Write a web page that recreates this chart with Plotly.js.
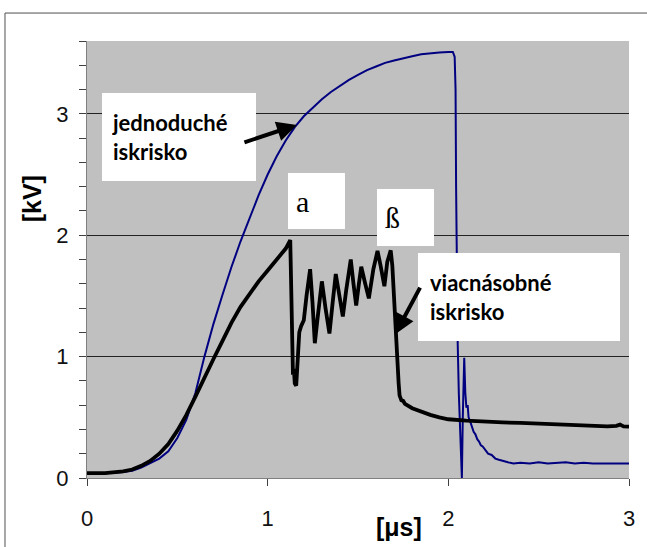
<!DOCTYPE html>
<html>
<head>
<meta charset="utf-8">
<script src="https://cdn.plot.ly/plotly-3.0.1.min.js"></script>
<style>html,body{margin:0;padding:0;background:#fff;}#chart{width:647px;height:547px;}</style>
</head>
<body>
<div id="chart"></div>
<script>
// jednoduché iskrisko (blue)
const blueX = [0, 0.1, 0.2, 0.25, 0.3, 0.35, 0.4, 0.45, 0.5, 0.55, 0.6, 0.65, 0.7, 0.75, 0.8, 0.85, 0.9, 0.95, 1.0, 1.05, 1.1, 1.15, 1.2, 1.25, 1.3, 1.35, 1.4, 1.45, 1.5, 1.55, 1.6, 1.65, 1.7, 1.75, 1.8, 1.85, 1.9, 1.95, 2.0, 2.025, 2.035, 2.04, 2.043, 2.047, 2.052, 2.058, 2.066, 2.075, 2.08, 2.084, 2.088, 2.094, 2.1, 2.107, 2.112, 2.12, 2.13, 2.14, 2.15, 2.16, 2.17, 2.18, 2.19, 2.2, 2.22, 2.24, 2.26, 2.28, 2.3, 2.33, 2.36, 2.4, 2.45, 2.5, 2.55, 2.6, 2.65, 2.7, 2.75, 2.8, 2.85, 2.9, 3.0];
const blueY = [0.04, 0.04, 0.05, 0.06, 0.085, 0.12, 0.16, 0.22, 0.33, 0.48, 0.7, 1.0, 1.27, 1.51, 1.74, 1.95, 2.14, 2.33, 2.5, 2.65, 2.78, 2.89, 2.98, 3.05, 3.12, 3.18, 3.23, 3.28, 3.32, 3.36, 3.39, 3.42, 3.44, 3.46, 3.475, 3.49, 3.5, 3.505, 3.51, 3.51, 3.47, 3.2, 2.4, 1.7, 1.1, 0.7, 0.3, 0.0, 0.5, 0.85, 0.99, 0.7, 0.58, 0.6, 0.5, 0.47, 0.42, 0.38, 0.36, 0.32, 0.3, 0.27, 0.26, 0.24, 0.2, 0.19, 0.16, 0.15, 0.14, 0.13, 0.12, 0.125, 0.12, 0.13, 0.12, 0.125, 0.13, 0.12, 0.125, 0.12, 0.12, 0.12, 0.12];

// viacnásobné iskrisko (black)
const blackX = [0, 0.1, 0.2, 0.25, 0.3, 0.35, 0.4, 0.45, 0.5, 0.55, 0.6, 0.65, 0.7, 0.75, 0.8, 0.85, 0.9, 0.95, 1.0, 1.05, 1.1, 1.125, 1.13, 1.135, 1.14, 1.145, 1.15, 1.158, 1.165, 1.175, 1.185, 1.2, 1.215, 1.235, 1.248, 1.261, 1.275, 1.3, 1.32, 1.342, 1.36, 1.377, 1.395, 1.416, 1.435, 1.46, 1.475, 1.49, 1.505, 1.518, 1.54, 1.56, 1.585, 1.608, 1.625, 1.646, 1.662, 1.681, 1.69, 1.7, 1.705, 1.71, 1.715, 1.72, 1.725, 1.73, 1.74, 1.75, 1.76, 1.8, 1.85, 1.9, 1.95, 2.0, 2.1, 2.2, 2.3, 2.4, 2.5, 2.6, 2.7, 2.8, 2.88, 2.93, 2.95, 2.97, 3.0];
const blackY = [0.04, 0.04, 0.055, 0.07, 0.1, 0.14, 0.2, 0.28, 0.39, 0.52, 0.67, 0.83, 0.98, 1.13, 1.28, 1.41, 1.52, 1.62, 1.71, 1.8, 1.89, 1.96, 1.6, 1.1, 0.85, 0.9, 0.78, 0.76, 0.95, 1.2, 1.25, 1.3, 1.5, 1.72, 1.45, 1.11, 1.3, 1.62, 1.4, 1.19, 1.45, 1.68, 1.52, 1.33, 1.55, 1.8, 1.6, 1.42, 1.6, 1.74, 1.6, 1.48, 1.72, 1.87, 1.75, 1.58, 1.78, 1.875, 1.75, 1.45, 1.25, 1.18, 1.1, 0.9, 0.78, 0.68, 0.64, 0.635, 0.61, 0.575, 0.545, 0.52, 0.5, 0.484, 0.472, 0.463, 0.458, 0.454, 0.448, 0.442, 0.438, 0.432, 0.425, 0.43, 0.44, 0.425, 0.423];

const xTicks = [0, 1, 2, 3];
const yTicks = [0, 1, 2, 3];

const traces = [
  {x: blueX, y: blueY, type: 'scatter', mode: 'lines', name: 'jednoduché iskrisko',
   line: {color: '#000080', width: 2}, hoverinfo: 'skip'},
  {x: blackX, y: blackY, type: 'scatter', mode: 'lines', name: 'viacnásobné iskrisko',
   line: {color: '#000000', width: 3.8}, hoverinfo: 'skip'}
];

const boxFont = {family: 'Lato, "Open Sans", sans-serif', size: 22, color: '#000'};
const serifFont = {family: '"Liberation Serif", "DejaVu Serif", serif', size: 30, color: '#000'};
const tickFont = {family: '"Liberation Sans", Arial, sans-serif', size: 22, color: '#111'};

const layout = {
  width: 647, height: 547,
  margin: {l: 87, r: 18, t: 41, b: 69},
  paper_bgcolor: '#ffffff',
  plot_bgcolor: '#c0c0c0',
  showlegend: false,
  font: {family: '"Liberation Sans", Arial, sans-serif', size: 20, color: '#000'},
  xaxis: {
    range: [0, 3], tickvals: xTicks, ticktext: xTicks.map(String),
    ticks: 'outside', ticklen: 7, tickcolor: '#404040', tickwidth: 1,
    showline: true, linecolor: '#808080', linewidth: 1,
    showgrid: false, zeroline: false, ticklabelstandoff: 14,
    tickfont: tickFont
  },
  yaxis: {
    range: [0, 3.6], tickvals: yTicks, ticktext: yTicks.map(String),
    ticks: 'outside', ticklen: 7, tickcolor: '#404040', tickwidth: 1,
    minor: {dtick: 0.2, tick0: 0, ticks: 'outside', ticklen: 7, tickcolor: '#404040', showgrid: false},
    showline: true, linecolor: '#808080', linewidth: 1,
    showgrid: true, gridcolor: '#222222', gridwidth: 1, zeroline: false,
    ticklabelstandoff: 6,
    tickfont: tickFont
  },
  shapes: [
    {type: 'rect', xref: 'paper', yref: 'paper', x0: -0.1513, x1: 1.2, y0: -0.3, y1: 1.064,
     line: {color: '#505050', width: 1}, fillcolor: 'rgba(0,0,0,0)', layer: 'below'}
  ],
  annotations: [
    {xref: 'paper', yref: 'paper', x: -0.1015, y: 0.64, text: '<b>[kV]</b>', showarrow: false,
     textangle: -90, font: {family: '"Liberation Sans", Arial, sans-serif', size: 25, color: '#000'},
     xanchor: 'center', yanchor: 'middle'},
    {xref: 'paper', yref: 'paper', x: 0.576, y: -0.112, text: '<b>[μs]</b>', showarrow: false,
     font: {family: '"Liberation Sans", Arial, sans-serif', size: 25, color: '#000'},
     xanchor: 'center', yanchor: 'middle'},
    {x: 0.083, y: 3.173, xanchor: 'left', yanchor: 'top', showarrow: false,
     text: '<b>jednoduché</b><br><b>iskrisko</b>', align: 'left', valign: 'middle',
     bgcolor: '#ffffff', borderpad: 10, borderwidth: 0, width: 134, height: 68, font: boxFont},
    {x: 1.1125, y: 2.514, xanchor: 'left', yanchor: 'top', showarrow: false,
     text: 'a', align: 'left', valign: 'middle',
     bgcolor: '#ffffff', borderpad: 8, borderwidth: 0, width: 41, height: 40, font: serifFont},
    {x: 1.605, y: 2.382, xanchor: 'left', yanchor: 'top', showarrow: false,
     text: 'ß', align: 'left', valign: 'middle',
     bgcolor: '#ffffff', borderpad: 8, borderwidth: 0, width: 41, height: 41, font: serifFont},
    {x: 1.832, y: 1.854, xanchor: 'left', yanchor: 'top', showarrow: false,
     text: '<b>viacnásobné</b><br><b>iskrisko</b>', align: 'left', valign: 'middle',
     bgcolor: '#ffffff', borderpad: 12, borderwidth: 0, width: 178, height: 64, font: boxFont},
    {x: 1.162, y: 2.909, ax: 0.863, ay: 2.761, axref: 'x', ayref: 'y', text: '',
     showarrow: true, arrowhead: 2, arrowsize: 1, arrowwidth: 4, arrowcolor: '#000', standoff: 0},
    {x: 1.706, y: 1.185, ax: 1.848, ay: 1.581, axref: 'x', ayref: 'y', text: '',
     showarrow: true, arrowhead: 2, arrowsize: 1, arrowwidth: 4, arrowcolor: '#000', standoff: 0}
  ]
};

Plotly.newPlot('chart', traces, layout, {staticPlot: true, displayModeBar: false});
</script>
</body>
</html>
